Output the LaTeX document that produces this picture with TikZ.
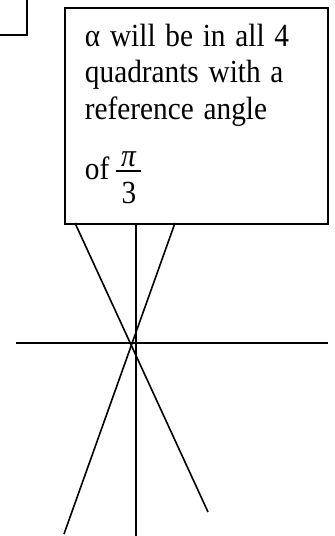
\documentclass[tikz,border=0pt]{standalone}
\usepackage{fontspec}
\setmainfont{Liberation Serif}
\usetikzlibrary{positioning}
% pi over 3, stacked as in the note
\newcommand{\piovertri}{%
  \makebox[25pt]{\rlap{\raisebox{11.8pt}{\makebox[25pt]{\textit{π}}}}%
  \rlap{\raisebox{6.6pt}{\rule{25pt}{1.3pt}}}%
  \raisebox{-21.8pt}{\makebox[25pt]{3}}}}
\tikzset{
  note/.style={rectangle, draw=black, line width=1.9pt, yscale=1.1, transform shape,
               minimum width=263pt, minimum height=196.36pt, inner xsep=20pt, inner ysep=0pt,
               text width=223pt, text height=34.55pt, text depth=161.8pt, align=left,
               font=\fontsize{29.3}{33.2}\selectfont},
  frame/.style={draw=black, line width=1.9pt},
  axis/.style={draw=black, line width=1.6pt},
  ray/.style={draw=black, line width=1.6pt}
}

\begin{document}
\begin{tikzpicture}[x=1pt, y=1pt]
  \useasboundingbox (0,0) rectangle (335,536);
  % corner of the box cut off at the top left
  \draw[frame] (0,501) -| (27,536);
  \node[note, anchor=north west] (note) at (64,529)
    {α will be in all 4\\quadrants with a\\reference angle\\[21.3pt]
     of\hspace{7pt}\piovertri};
  % axes
  \coordinate (top) at (136,313);
  \coordinate (bottom) at (136,0);
  \coordinate (left) at (16,193);
  \coordinate (right) at (328,193);
  \draw[axis] (top) -- (bottom);
  \draw[axis] (left) -- (right);
  % terminal sides
  \coordinate (a1) at (75,313);
  \coordinate (a2) at (208,24);
  \coordinate (b1) at (175,313);
  \coordinate (b2) at (64,2);
  \draw[ray] (a1) -- (a2);
  \draw[ray] (b1) -- (b2);
\end{tikzpicture}
\end{document}
